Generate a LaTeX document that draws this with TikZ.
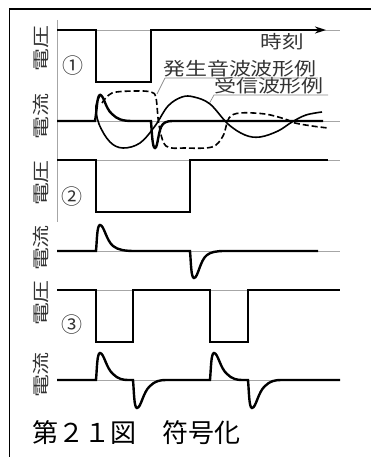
\documentclass[tikz,border=0pt]{standalone}
\usepackage{fontspec}
\usepackage{graphicx}
\newfontfamily\jp{Noto Sans CJK JP}
\usetikzlibrary{arrows.meta}
\begin{document}
\begin{tikzpicture}[x=1pt,y=-1pt,
  wave/.style={line width=2.4pt, line join=miter},
  thinwave/.style={line width=1.6pt},
  dashwave/.style={line width=1.6pt, dash pattern=on 6pt off 3pt},
  axis/.style={black!35, line width=0.7pt},
  frame/.style={line width=1.8pt},
  vlbl/.style={font=\jp\fontsize{17}{17}\selectfont, inner sep=0pt, rotate=90, text=black!80},
  hlbl/.style={font=\jp\fontsize{18}{18}\selectfont, inner sep=0pt, text=black!80},
  num/.style={font=\jp\fontsize{21}{21}\selectfont, inner sep=0pt, text=black!80},
  captxt/.style={font=\jp\fontsize{26}{26}\selectfont, inner sep=0pt},
  leader/.style={black!45, line width=0.7pt}]
\useasboundingbox (0,0) rectangle (371,457);
% frame
\draw[frame] (9.5,457) -- (9.5,9) -- (371,9);
% axes
\draw[axis] (57,20) -- (57,222);
\foreach \yy in {30,121,160,251,290,380}
  \draw[axis] (57,\yy) -- (340,\yy);
% labels
\node[vlbl] (v1) at (41,49) {\scalebox{1.35}[1]{電圧}};
\node[vlbl] (c1) at (41,117) {\scalebox{1.35}[1]{電流}};
\node[vlbl] (v2) at (41,183) {\scalebox{1.35}[1]{電圧}};
\node[vlbl] (c2) at (41,248) {\scalebox{1.35}[1]{電流}};
\node[vlbl] (v3) at (41,303) {\scalebox{1.35}[1]{電圧}};
\node[vlbl] (c3) at (41,375) {\scalebox{1.35}[1]{電流}};
\node[num] (n1) at (73,66) {①};
\node[num] (n2) at (72,197) {②};
\node[num] (n3) at (72,325) {③};
\node[hlbl] (t) at (282,42) {\scalebox{1.2}[1]{時刻}};
\node[hlbl] (g) at (240,69) {\scalebox{1.22}[1]{発生音波波形例}};
\node[hlbl] (r) at (269,86) {\scalebox{1.22}[1]{受信波形例}};
\node[captxt] (caption) at (136,433) {第２１図　符号化};
% leaders
\coordinate (gl) at (165,78);
\coordinate (gr) at (318,78);
\coordinate (ga) at (157,94);
\coordinate (rl) at (214,95);
\coordinate (rr) at (328,95);
\coordinate (ra) at (209,104);
\draw[leader] (gr) -- (gl) -- (ga);
\draw[leader] (rr) -- (rl) -- (ra);
% panel 1 voltage
\draw[wave, -{Stealth[length=11pt,width=7pt]}] (57,30) -- (96,30) -- (96,82) -- (151,82) -- (151,30) -- (326,30);
% panel 1 waves
\draw[dashwave] plot[smooth, tension=0.55] coordinates {(102,103) (112,93) (135,91) (151,92) (156,98) (159,125) (166,146) (185,148) (212,147) (223,136) (229,118) (240,113) (265,114) (285,119) (295,123) (312,126) (328,128)};
\draw[thinwave] plot[smooth, tension=0.6] coordinates {(101,94) (96,106) (99,124) (110,142) (123,148) (140,143) (155,126) (168,106) (182,97) (194,97) (210,104) (228,124) (245,135) (260,137) (278,131) (292,122) (306,115) (322,112)};
\draw[wave] (57,121) -- (95,121) .. controls (97,110) and (97,95) .. (100,95) .. controls (104,95) and (105,108) .. (112,114) .. controls (117,119) and (122,121) .. (132,121) -- (151,121) .. controls (152,135) and (152.5,148) .. (155,148) .. controls (158,148) and (158,129) .. (163,124) .. controls (166,121) and (170,121) .. (176,121) -- (323,121);
% panel 2 voltage
\draw[wave] (57,160) -- (96,160) -- (96,212) -- (190,212) -- (190,160) -- (328,160);
% panel 2 current
\draw[wave] (57,251) -- (96,251) .. controls (97,240) and (97,225) .. (100,225) .. controls (104,225) and (106,240) .. (113,246) .. controls (118,250) and (125,251) .. (135,251) -- (190,251) .. controls (191,262) and (191,278) .. (194,278) .. controls (198,278) and (200,260) .. (207,255) .. controls (211,252) and (216,251) .. (225,251) -- (318,251);
% panel 3 voltage
\draw[wave] (57,290) -- (96,290) -- (96,342) -- (133,342) -- (133,290) -- (210,290) -- (210,342) -- (248,342) -- (248,290) -- (340,290);
% panel 3 current
\draw[wave] (57,380) -- (96,380)
  .. controls (97,369) and (97,353) .. (100,353) .. controls (104,353) and (106,368) .. (113,374) .. controls (118,379) and (123,380) .. (128,380) -- (133,380)
  .. controls (134,391) and (134,408) .. (137,408) .. controls (141,408) and (143,392) .. (150,386) .. controls (155,381) and (160,380) .. (166,380) -- (210,380)
  .. controls (211,369) and (211,353) .. (214,353) .. controls (218,353) and (220,368) .. (227,374) .. controls (232,379) and (237,380) .. (242,380) -- (248,380)
  .. controls (249,391) and (249,408) .. (252,408) .. controls (256,408) and (258,392) .. (265,386) .. controls (270,381) and (275,380) .. (281,380) -- (340,380);
\end{tikzpicture}
\end{document}
